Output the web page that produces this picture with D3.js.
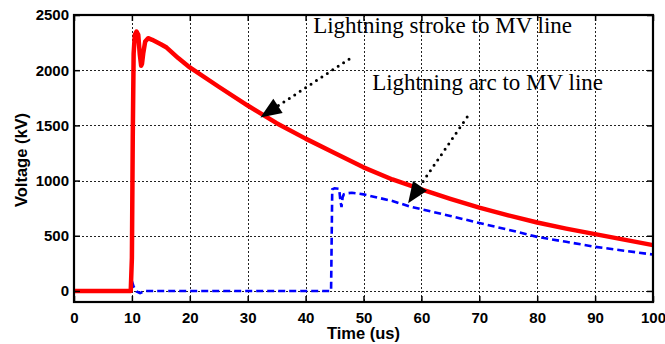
<!DOCTYPE html>
<html>
<head>
<meta charset="utf-8">
<script src="https://cdn.jsdelivr.net/npm/d3@7"></script>
<style>
  html, body { margin: 0; padding: 0; background: #fff; }
  svg { display: block; }
</style>
</head>
<body>
<svg id="chart" width="665" height="344"></svg>
<script>
// Time axis (us) and voltage (kV) samples for the two surge cases
const strokeTime = [0, 9.8, 10.0, 10.15, 10.3, 10.5, 10.8, 11.1, 11.35, 11.6, 11.75, 11.95, 12.3, 12.8, 13.5, 15, 16, 18, 20, 25, 30, 35, 40, 45, 50, 55, 60, 65, 70, 75, 80, 85, 90, 95, 100];
const strokeVolt = [0, 0, 300, 1400, 2150, 2320, 2350, 2320, 2150, 2040, 2060, 2150, 2260, 2290, 2275, 2235, 2205, 2110, 2025, 1850, 1680, 1520, 1380, 1250, 1120, 1010, 920, 835, 755, 685, 620, 565, 515, 465, 415];

const arcTime = [10.0, 10.3, 10.8, 11.4, 12.0, 12.6, 20, 30, 44.4, 44.6, 45.0, 45.8, 46.0, 46.2, 46.4, 46.6, 47.2, 48, 50, 55, 58, 60, 65, 70, 75, 80, 85, 90, 95, 100];
const arcVolt = [90, 40, -5, -20, -5, 0, 0, 0, 0, 920, 930, 925, 820, 760, 850, 875, 885, 890, 875, 815, 765, 740, 680, 615, 555, 490, 445, 400, 365, 330];

const xTicks = [0, 10, 20, 30, 40, 50, 60, 70, 80, 90, 100];
const yTicks = [0, 500, 1000, 1500, 2000, 2500];

// Annotation labels and their pointers, in data units (us, kV)
const noteText = ["Lightning stroke to MV line", "Lightning arc to MV line"];
const noteAt = [[41.3, 2340], [51.5, 1820]];
const pointerFrom = [[47.5, 2100], [67.9, 1575]];
const pointerTo = [[32.2, 1572], [57.7, 795]];

const svg = d3.select("#chart");
const m = { left: 74, right: 653, top: 15, bottom: 302 };

const x = d3.scaleLinear().domain([0, 100]).range([m.left, m.right]);
const y = d3.scaleLinear().domain([-100, 2500]).range([m.bottom, m.top]);

// dotted grid
const grid = svg.append("g").attr("class", "grid");
xTicks.slice(1, -1).forEach(d => {
  const gx = Math.round(x(d)) + 0.5;
  grid.append("line").attr("x1", gx).attr("x2", gx).attr("y1", m.top).attr("y2", m.bottom)
    .attr("stroke", "#222").attr("stroke-width", 1).attr("stroke-dasharray", "2,2");
});
yTicks.slice(0, -1).forEach(d => {
  const gy = Math.round(y(d)) + 0.5;
  grid.append("line").attr("x1", m.left).attr("x2", m.right).attr("y1", gy).attr("y2", gy)
    .attr("stroke", "#222").attr("stroke-width", 1).attr("stroke-dasharray", "2,2");
});

// curves
const line = d3.line().x(d => x(d[0])).y(d => y(d[1]));
svg.append("path")
  .datum(arcTime.map((t, i) => [t, arcVolt[i]]))
  .attr("d", line).attr("fill", "none").attr("stroke", "#0000ff")
  .attr("stroke-width", 2.6).attr("stroke-dasharray", "7,4");
svg.append("path")
  .datum(strokeTime.map((t, i) => [t, strokeVolt[i]]))
  .attr("d", line).attr("fill", "none").attr("stroke", "#ff0000")
  .attr("stroke-width", 4.5).attr("stroke-linejoin", "round");

// axes with inward ticks on all four sides
const tickLen = 6;
const fmt = d3.format("d");
const axisFont = "bold 15px 'Liberation Sans', Arial, sans-serif";
const bottomAxis = svg.append("g").attr("transform", `translate(0,${m.bottom})`)
  .call(d3.axisBottom(x).tickValues(xTicks).tickFormat(fmt).tickSizeInner(-tickLen).tickSizeOuter(0).tickPadding(10));
const leftAxis = svg.append("g").attr("transform", `translate(${m.left},0)`)
  .call(d3.axisLeft(y).tickValues(yTicks).tickFormat(fmt).tickSizeInner(-tickLen).tickSizeOuter(0).tickPadding(5));
const topAxis = svg.append("g").attr("transform", `translate(0,${m.top})`)
  .call(d3.axisTop(x).tickValues(xTicks).tickSizeInner(-tickLen).tickSizeOuter(0).tickFormat(""));
const rightAxis = svg.append("g").attr("transform", `translate(${m.right},0)`)
  .call(d3.axisRight(y).tickValues(yTicks).tickSizeInner(-tickLen).tickSizeOuter(0).tickFormat(""));
[bottomAxis, leftAxis, topAxis, rightAxis].forEach(g => {
  g.select(".domain").remove();
  g.selectAll(".tick line").attr("stroke", "#000").attr("stroke-width", 1.5);
  g.selectAll("text").style("font", axisFont).attr("fill", "#000");
});

// frame
svg.append("rect").attr("x", m.left).attr("y", m.top)
  .attr("width", m.right - m.left).attr("height", m.bottom - m.top)
  .attr("fill", "none").attr("stroke", "#000").attr("stroke-width", 2.2);

// axis titles
svg.append("text").attr("x", (m.left + m.right) / 2).attr("y", 339)
  .attr("text-anchor", "middle").style("font", "bold 16.5px 'Liberation Sans', Arial, sans-serif")
  .text("Time (us)");
svg.append("text").attr("transform", `translate(27,160) rotate(-90)`)
  .attr("text-anchor", "middle").style("font", "bold 16.5px 'Liberation Sans', Arial, sans-serif")
  .text("Voltage (kV)");

// annotations
const notes = svg.append("g");
noteText.forEach((txt, i) => {
  notes.append("text").attr("x", x(noteAt[i][0])).attr("y", y(noteAt[i][1]))
    .style("font", "23px 'Liberation Serif', 'Times New Roman', serif").attr("fill", "#000")
    .text(txt);
  const [x0, y0] = [x(pointerFrom[i][0]), y(pointerFrom[i][1])];
  const [x1, y1] = [x(pointerTo[i][0]), y(pointerTo[i][1])];
  const ang = Math.atan2(y1 - y0, x1 - x0);
  const headLen = 21, headHalf = 8.5;
  const bx = x1 - headLen * Math.cos(ang), by = y1 - headLen * Math.sin(ang);
  notes.append("line").attr("x1", x0).attr("y1", y0).attr("x2", bx).attr("y2", by)
    .attr("stroke", "#000").attr("stroke-width", 3).attr("stroke-linecap", "round")
    .attr("stroke-dasharray", "0,6.5");
  const px = -Math.sin(ang) * headHalf, py = Math.cos(ang) * headHalf;
  notes.append("path")
    .attr("d", `M${x1},${y1}L${bx + px},${by + py}L${bx - px},${by - py}Z`)
    .attr("fill", "#000");
});
</script>
</body>
</html>
